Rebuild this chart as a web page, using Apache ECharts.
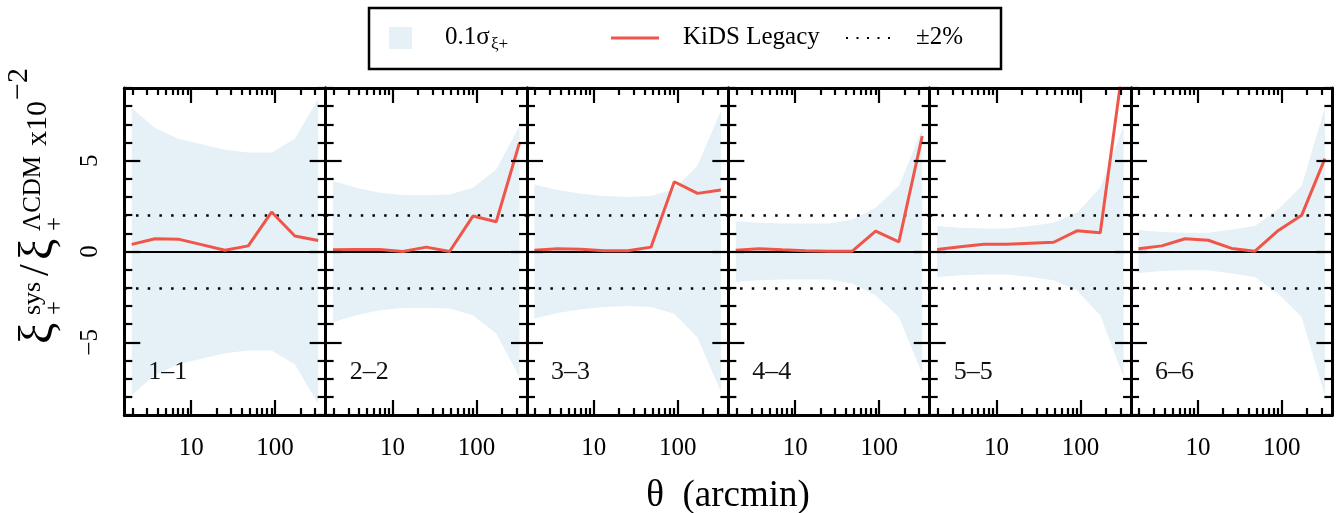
<!DOCTYPE html>
<html>
<head>
<meta charset="utf-8">
<title>xi+ sys / xi+ LCDM</title>
<script src="https://cdn.jsdelivr.net/npm/echarts@6/dist/echarts.min.js"></script>
<style>
  html, body { margin: 0; padding: 0; background: #fff; }
  #chart { width: 1336px; height: 513px; }
</style>
</head>
<body>
<div id="chart"></div>
<script>
  // theta bin centres (arcmin)
  var theta = [1.96, 3.71, 7.03, 13.3, 25.3, 47.9, 90.8, 172, 326]
  var panelNames = ['1–1', '2–2', '3–3', '4–4', '5–5', '6–6']
  // KiDS Legacy  xi+sys / xi+LCDM  (x10^-2)
  var kids11 = [0.39, 0.70, 0.68, 0.38, 0.07, 0.31, 2.17, 0.85, 0.61]
  var kids22 = [0.09, 0.11, 0.11, 0.00, 0.24, 0.00, 1.95, 1.64, 5.99]
  var kids33 = [0.07, 0.15, 0.13, 0.04, 0.04, 0.24, 3.84, 3.20, 3.38]
  var kids44 = [0.07, 0.15, 0.09, 0.04, 0.02, 0.02, 1.12, 0.53, 6.36]
  var kids55 = [0.11, 0.26, 0.40, 0.40, 0.46, 0.51, 1.14, 1.03, 10.5]
  var kids66 = [0.15, 0.31, 0.70, 0.62, 0.17, 0.02, 1.16, 1.99, 5.11]
  // 0.1 sigma band (half width)
  var sig11 = [7.90, 6.80, 6.20, 5.90, 5.60, 5.45, 5.45, 6.20, 8.40]
  var sig22 = [3.88, 3.51, 3.24, 3.11, 3.09, 3.14, 3.51, 4.52, 6.91]
  var sig33 = [3.69, 3.38, 3.18, 3.05, 3.00, 3.05, 3.42, 4.74, 7.74]
  var sig44 = [1.67, 1.58, 1.54, 1.54, 1.54, 1.76, 2.41, 3.60, 6.73]
  var sig55 = [1.40, 1.31, 1.27, 1.27, 1.40, 1.58, 2.13, 3.51, 6.91]
  var sig66 = [1.18, 1.07, 1.03, 1.03, 1.21, 1.40, 2.32, 3.60, 7.92]
  var refLevel = 2 // +-2%
  // tick values
  var xMajorTicks = [10, 100]
  var xMinorTicks = [2, 3, 4, 5, 6, 7, 8, 9, 20, 30, 40, 50, 60, 70, 80, 90, 200, 300]
  var yMajorTicks = [-5, 0, 5]
  var yMinorTicks = [-9, -8, -7, -6, -4, -3, -2, -1, 1, 2, 3, 4, 6, 7, 8, 9]

  var kidsPanels = [kids11, kids22, kids33, kids44, kids55, kids66]
  var sigPanels = [sig11, sig22, sig33, sig44, sig55, sig66]

  var serif = '"Liberation Serif", "DejaVu Serif", serif'
  var bandColor = '#e5f1f6'
  var red = '#ef5649'
  var gridLeft = 124.3 // 网格起点
  var gridW = 201.35
  var gridTop = 88
  var gridH = 327

  var grids = []
  var xAxes = []
  var yAxes = []
  var series = []
  var graphics = []

  function xAxisOf (i, pos, ticks, len, line, labels) {
    return {
      gridIndex: i, type: 'log', logBase: 10, min: 1.6, max: 400, position: pos, z: 10,
      axisLine: {show: line, onZero: false, lineStyle: {color: '#000', width: 3}},
      axisTick: {show: true, inside: true, length: len, customValues: ticks, lineStyle: {color: '#000', width: 2.2}},
      axisLabel: labels ? {show: true, customValues: xMajorTicks, margin: 21, color: '#000', fontFamily: serif, fontSize: 25} : {show: false},
      splitLine: {show: false},
      minorTick: {show: false}
    }
  }

  function yAxisOf (i, pos, ticks, len, line, labels) {
    return {
      gridIndex: i, type: 'value', min: -9, max: 9, interval: 1, position: pos, z: 10,
      axisLine: {show: line, onZero: false, lineStyle: {color: '#000', width: 3}},
      axisTick: {show: true, inside: true, length: len, customValues: ticks, lineStyle: {color: '#000', width: 2.2}},
      axisLabel: labels ? {
        show: true, customValues: yMajorTicks, rotate: 90, margin: 21, color: '#000', fontFamily: serif, fontSize: 25,
        formatter: function (v) { return v < 0 ? '\u2212' + (-v) : String(v) }
      } : {show: false},
      splitLine: {show: false},
      minorTick: {show: false}
    }
  }

  for (var i = 0; i < 6; i++) {
    var left = gridLeft + i * gridW
    grids.push({left: left, top: gridTop, width: gridW, height: gridH, outerBoundsMode: 'none'})
    xAxes.push(xAxisOf(i, 'bottom', xMajorTicks, 15, true, true))
    xAxes.push(xAxisOf(i, 'bottom', xMinorTicks, 7, false, false))
    xAxes.push(xAxisOf(i, 'top', xMajorTicks, 15, true, false))
    xAxes.push(xAxisOf(i, 'top', xMinorTicks, 7, false, false))
    yAxes.push(yAxisOf(i, 'left', yMajorTicks, 16, true, i === 0))
    yAxes.push(yAxisOf(i, 'left', yMinorTicks, 8, false, false))
    yAxes.push(yAxisOf(i, 'right', yMajorTicks, 16, true, false))
    yAxes.push(yAxisOf(i, 'right', yMinorTicks, 8, false, false))

    var sig = sigPanels[i]
    var kids = kidsPanels[i]
    // lower half of the band, filled up to 0; carries the reference lines
    series.push({
      type: 'line', xAxisIndex: 4 * i, yAxisIndex: 4 * i,
      symbol: 'none', silent: true, z: 2,
      lineStyle: {opacity: 0},
      areaStyle: {color: bandColor, opacity: 1, origin: 0},
      data: theta.map(function (t, k) { return [t, -sig[k]] }),
      markLine: {
        silent: true, symbol: 'none', z: 4, animation: false, label: {show: false},
        data: [
          {yAxis: 0, lineStyle: {color: '#000', width: 2, type: 'solid'}},
          {yAxis: refLevel, lineStyle: {color: '#000', width: 2.5, type: [2.5, 9.2]}},
          {yAxis: -refLevel, lineStyle: {color: '#000', width: 2.5, type: [2.5, 9.2]}}
        ]
      }
    })
    // upper half of the band, filled down to 0
    series.push({
      type: 'line', xAxisIndex: 4 * i, yAxisIndex: 4 * i,
      symbol: 'none', silent: true, z: 2,
      lineStyle: {opacity: 0},
      areaStyle: {color: bandColor, opacity: 1, origin: 0},
      data: theta.map(function (t, k) { return [t, sig[k]] })
    })
    // KiDS Legacy
    series.push({
      type: 'line', xAxisIndex: 4 * i, yAxisIndex: 4 * i, symbol: 'none', z: 6, clip: true,
      lineStyle: {color: red, width: 3},
      data: theta.map(function (t, k) { return [t, kids[k]] })
    })

    graphics.push({
      type: 'text', x: left + 24, y: 372, z: 20,
      style: {text: panelNames[i], font: '26px ' + serif, fill: '#111', align: 'left', verticalAlign: 'middle'}
    })
  }

  // legend box
  graphics.push({type: 'rect', shape: {x: 369, y: 8, width: 632, height: 61}, style: {fill: '#fff', stroke: '#000', lineWidth: 2.5}, z: 20})
  graphics.push({type: 'rect', shape: {x: 389, y: 27, width: 23, height: 22}, style: {fill: bandColor}, z: 21})
  graphics.push({type: 'text', x: 445, y: 37, z: 21, style: {text: '0.1σ', font: '25px ' + serif, fill: '#000', align: 'left', verticalAlign: 'middle'}})
  graphics.push({type: 'text', x: 491, y: 45, z: 21, style: {text: 'ξ+', font: '17px ' + serif, fill: '#000', align: 'left', verticalAlign: 'middle'}})
  graphics.push({type: 'line', shape: {x1: 611, y1: 38, x2: 659, y2: 38}, style: {stroke: red, lineWidth: 3}, z: 21})
  graphics.push({type: 'text', x: 683, y: 37, z: 21, style: {text: 'KiDS Legacy', font: '25px ' + serif, fill: '#000', align: 'left', verticalAlign: 'middle'}})
  graphics.push({type: 'line', shape: {x1: 846, y1: 38, x2: 890, y2: 38}, style: {stroke: '#000', lineWidth: 2, lineDash: [2, 8.5]}, z: 21})
  graphics.push({type: 'text', x: 916, y: 37, z: 21, style: {text: '±2%', font: '25px ' + serif, fill: '#000', align: 'left', verticalAlign: 'middle'}})

  // x title
  graphics.push({type: 'text', x: 728, y: 496, z: 20, style: {text: 'θ  (arcmin)', font: '37px ' + serif, fill: '#000', align: 'center', verticalAlign: 'middle'}})

  // y title, rotated
  function tx (txt, lx, ly, size) {
    return {type: 'text', x: lx, y: ly, style: {text: txt, font: size + 'px ' + serif, fill: '#000', align: 'left', verticalAlign: 'middle'}}
  }
  graphics.push({
    type: 'group', x: 51, y: 344, rotation: Math.PI / 2, z: 20,
    children: [
      tx('ξ', 0, -12, 48),
      tx('sys', 29, -18, 26),
      tx('+', 29, 4, 25),
      tx('/', 68, -14, 42),
      tx('ξ', 84, -12, 48),
      tx('ΛCDM', 113, -18, 25),
      tx('+', 113, 4, 25),
      tx('x10', 198, -13, 30),
      tx('\u22122', 244, -32, 30)
    ]
  })

  var chart = echarts.init(document.getElementById('chart'))
  chart.setOption({
    animation: false,
    backgroundColor: '#fff',
    grid: grids,
    xAxis: xAxes,
    yAxis: yAxes,
    series: series,
    graphic: graphics
  })
</script>
</body>
</html>
